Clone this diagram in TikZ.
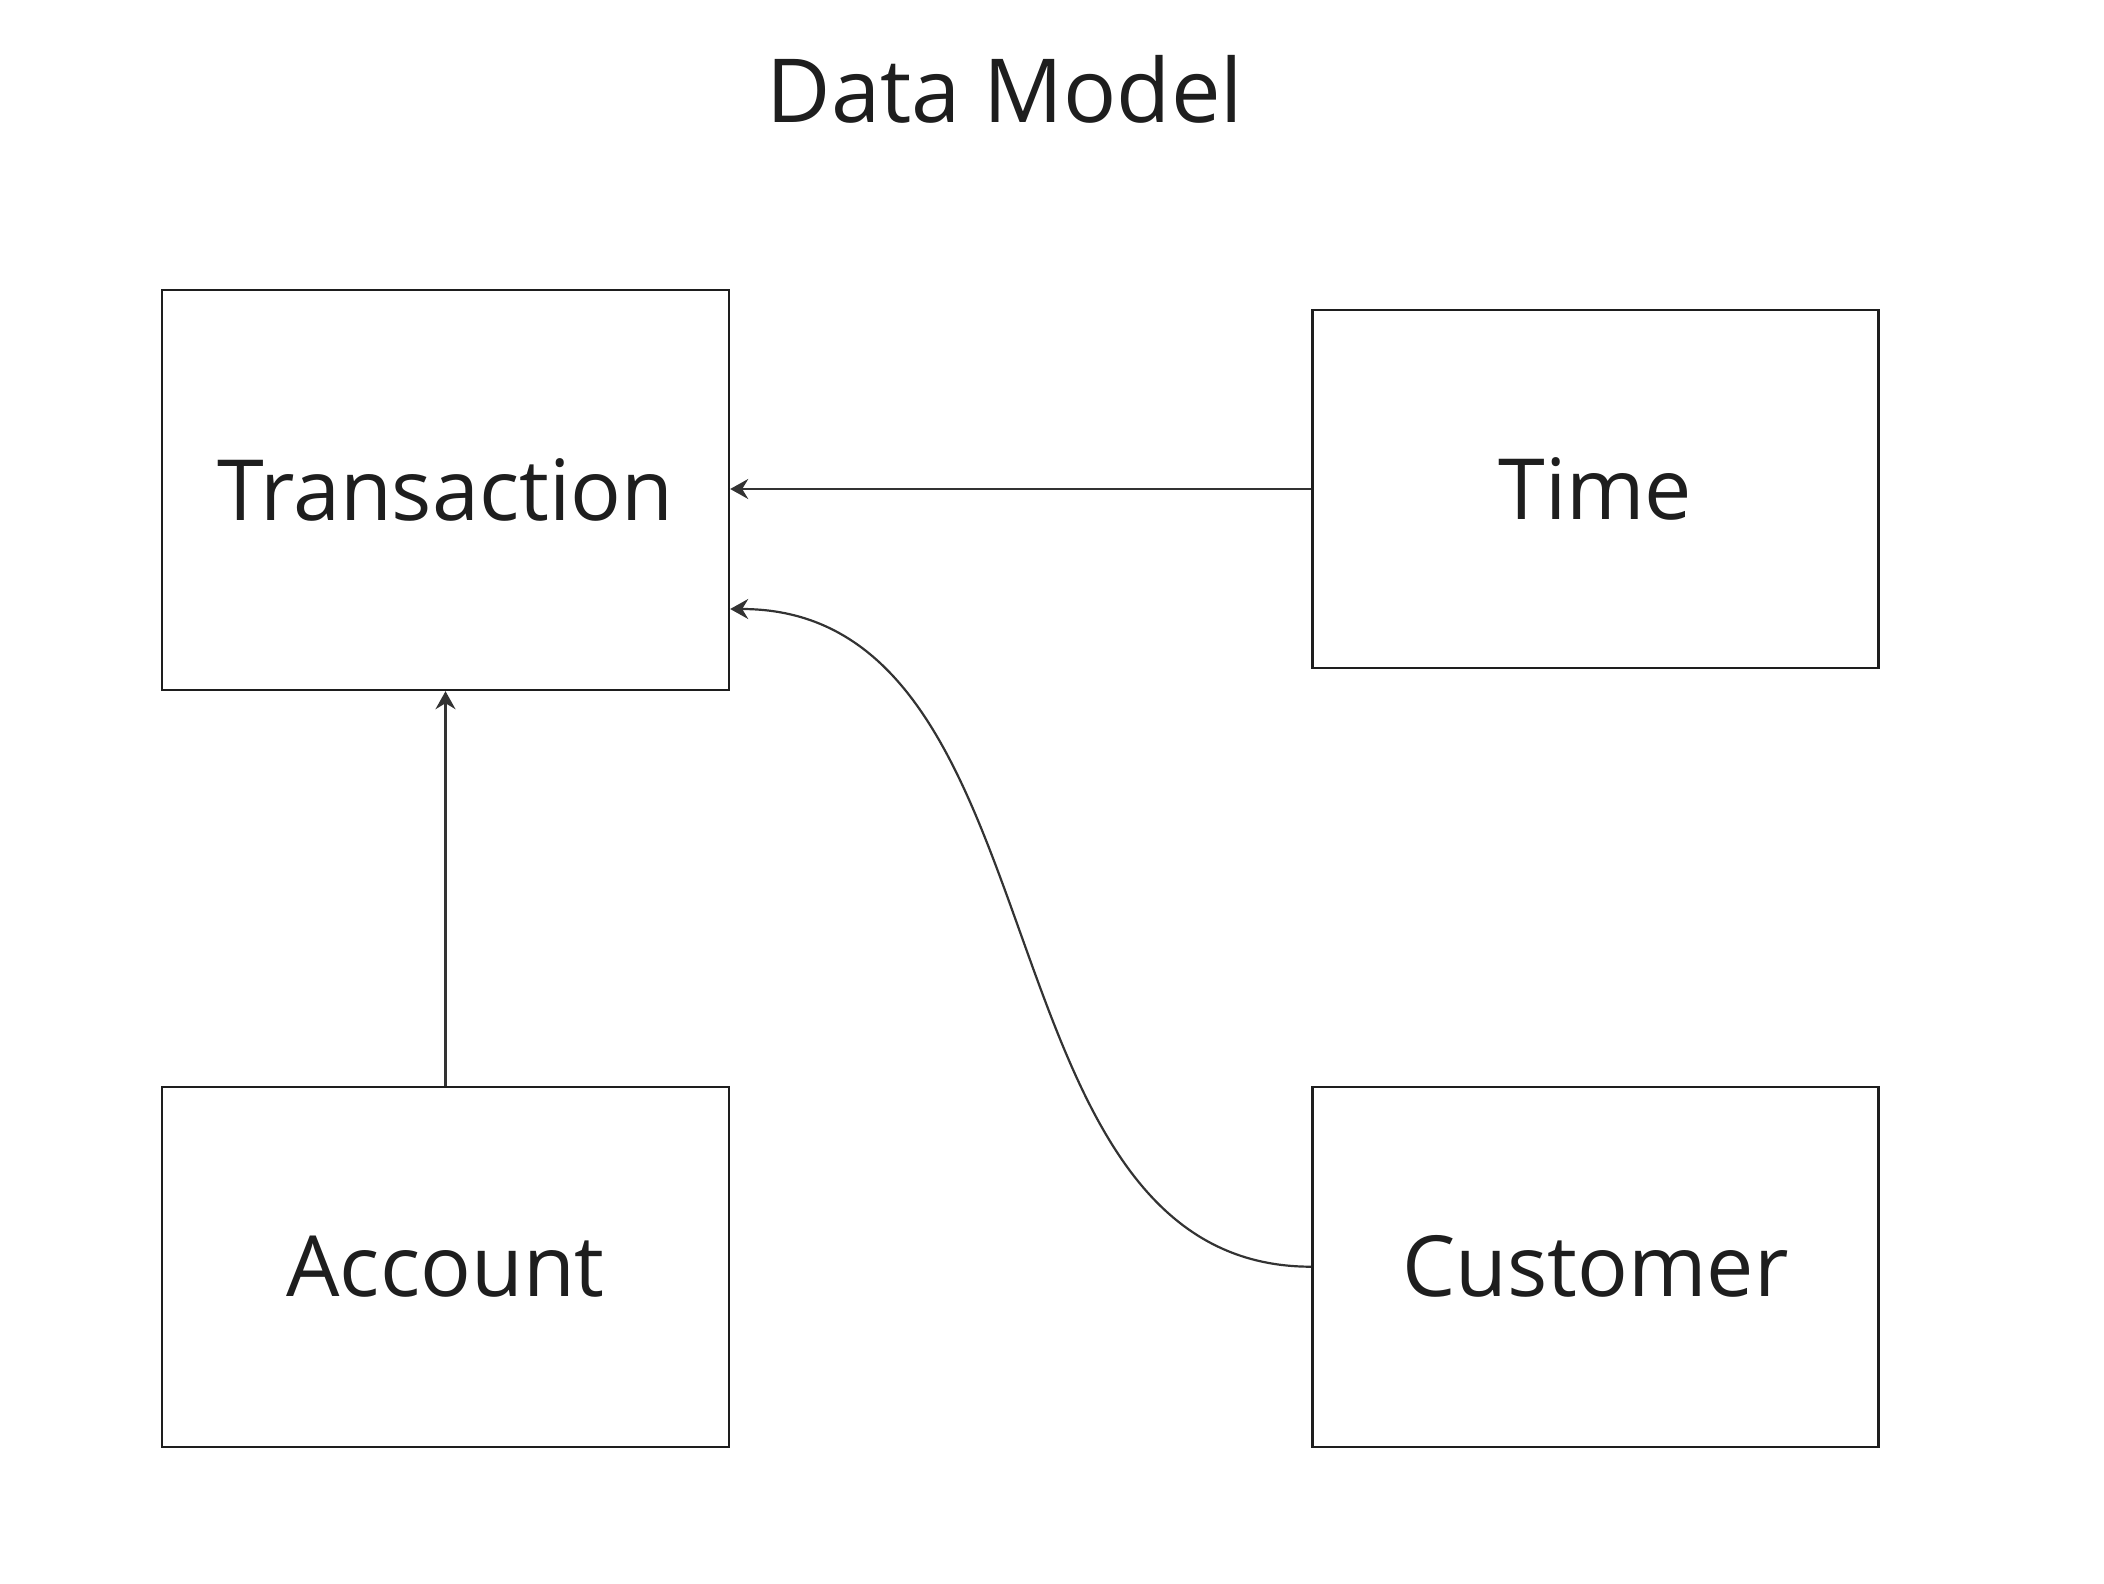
\documentclass[tikz,border=0pt]{standalone}
\usepackage{fontspec}
\setmainfont{Open Sans}
\usetikzlibrary{arrows.meta}
\definecolor{ink}{HTML}{1E1E1E}
\definecolor{wire}{HTML}{333333}
\begin{document}
\begin{tikzpicture}[x=0.5pt,y=-0.5pt,
  box/.style={draw=ink,line width=1.2pt,text=ink,inner sep=0pt,
    font=\fontsize{42.2}{50}\selectfont},
  conn/.style={draw=wire,line width=1.1pt,-{Stealth[length=9pt,width=10pt,inset=3pt]}}]
\useasboundingbox (0,0) rectangle (2104,1584);
\node[text=ink,font=\fontsize{44.2}{52}\selectfont,anchor=base] (title) at (1005,123) {Data Model};
\node[box,minimum width=283.5pt,minimum height=200pt] (Transaction) at (445.5,490) {Transaction};
\node[box,minimum width=283pt,minimum height=179pt] (Time) at (1595.4,489) {Time};
\node[box,minimum width=283.5pt,minimum height=180pt] (Account) at (445.5,1266.7) {Account};
\node[box,minimum width=283pt,minimum height=180pt] (Customer) at (1595.4,1266.7) {Customer};
\coordinate (tin) at ([yshift=-59.5pt]Transaction.east);
\draw[conn] (Time.west) -- (Time.west -| Transaction.east);
\draw[conn] (Account.north) -- (Transaction.south);
\draw[conn] (Customer.west) .. controls +(-340,0) and +(340,0) .. (tin);
\end{tikzpicture}
\end{document}
